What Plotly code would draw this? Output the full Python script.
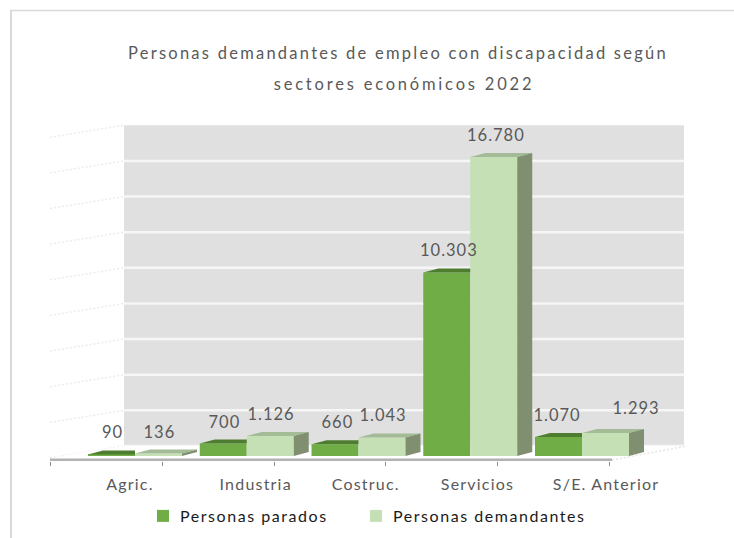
import plotly.graph_objects as go

categories = ["Agric.", "Industria", "Costruc.", "Servicios", "S/E. Anterior"]
parados = [90, 700, 660, 10303, 1070]
demandantes = [136, 1126, 1043, 16780, 1293]
grid_values = [0, 2000, 4000, 6000, 8000, 10000, 12000, 14000, 16000, 18000]

GREEN, LIGHT = "#70ad47", "#c5e0b4"
GREEN_TOP, LIGHT_TOP, SIDE = "#4e7d30", "#a3bb96", "#7f8f70"
FONT = "Lato"
TXT = "#595959"

# pixel geometry -> data scale
W, H = 734, 538
ML, MR, MT, MB = 40, 34, 100, 77
PX_X0, PX_CAT = 106.5, 111.75      # px of category 0, px per category
PX_Y0, PX_V = 456.0, 0.01782       # px of value 0, px per unit value
dx = lambda px: px / PX_CAT
dy = lambda px: px / PX_V
xd = lambda px: (px - PX_X0) / PX_CAT
yd = lambda px: (PX_Y0 - px) / PX_V
xp = lambda px: (px - ML) / (W - ML - MR)
yp = lambda px: (H - MB - px) / (H - MT - MB)

BAR_W = dx(47)
OFF_G = xd(88)
OFF_L = xd(135)
DEPTH_X, DEPTH_Y = dx(15), dy(4)
WALL_BASE = dy(10)
WALL_L, WALL_R = xd(124), xd(684)

xs = list(range(len(categories)))
fig = go.Figure()
fig.add_bar(x=xs, y=parados, name="Personas parados", width=BAR_W, offset=OFF_G,
            marker=dict(color=GREEN, line_width=0))
fig.add_bar(x=xs, y=demandantes, name="Personas demandantes", width=BAR_W, offset=OFF_L,
            marker=dict(color=LIGHT, line_width=0))


def poly(px_, py_, color):
    fig.add_scatter(x=px_ + px_[:1], y=py_ + py_[:1], mode="lines", fill="toself",
                    fillcolor=color, line=dict(width=0, color=color),
                    showlegend=False, hoverinfo="skip")


for i in xs:
    a = i + OFF_G
    b = a + BAR_W
    c = b + BAR_W
    g, l = parados[i], demandantes[i]
    poly([a, a + DEPTH_X, b, b], [g, g + DEPTH_Y, g + DEPTH_Y, g], GREEN_TOP)
    poly([b, b + DEPTH_X, c + DEPTH_X, c], [l, l + DEPTH_Y, l + DEPTH_Y, l], LIGHT_TOP)
    poly([c, c + DEPTH_X, c + DEPTH_X, c], [0, DEPTH_Y, l + DEPTH_Y, l], SIDE)

shapes = [
    # chart frame
    dict(type="line", xref="paper", yref="paper", x0=xp(10), x1=xp(734), y0=yp(10.5), y1=yp(10.5),
         line=dict(color="#d9d9d9", width=1.5)),
    dict(type="line", xref="paper", yref="paper", x0=xp(11), x1=xp(11), y0=yp(10), y1=yp(538),
         line=dict(color="#d9d9d9", width=2)),
    # back wall
    dict(type="rect", x0=WALL_L, x1=WALL_R, y0=WALL_BASE, y1=18000 + WALL_BASE, layer="below",
         fillcolor="#e0e0e0", line_width=0),
]
for v in grid_values[:-1]:
    shapes.append(dict(type="line", x0=WALL_L, x1=WALL_R, y0=v + WALL_BASE, y1=v + WALL_BASE,
                       layer="below", line=dict(color="#f6f6f6", width=2.5)))
for v in grid_values:
    shapes.append(dict(type="line", x0=xd(50), x1=WALL_L, y0=v + dy(-2), y1=v + WALL_BASE,
                       layer="below", line=dict(color="#ececec", width=1.5, dash="2px,2px")))
shapes += [
    # floor
    dict(type="path", layer="below", fillcolor="#ffffff", line_width=0,
         path=f"M {xd(50)} {dy(-2)} L {WALL_L} {WALL_BASE} L {WALL_R} {WALL_BASE} L {xd(612)} {dy(-2)} Z"),
    dict(type="line", x0=xd(612), x1=WALL_R + dx(3), y0=dy(-4), y1=WALL_BASE, layer="below",
         line=dict(color="#e6e6e6", width=1.5, dash="2px,2px")),
    # front axis band
    dict(type="rect", x0=xd(50), x1=xd(612), y0=dy(-7), y1=dy(-2.5), layer="below",
         fillcolor="#b2b2b2", line_width=0),
]

x_shift = [1, 1, 1, 1, 2, 1, 2, 2, -1, 30]
ann = []
for j, (vals, off) in enumerate([(parados, OFF_G), (demandantes, OFF_L)]):
    for i, v in enumerate(vals):
        ann.append(dict(x=i + off + BAR_W / 2, y=v, text=f"{v:,}".replace(",", "."),
                        showarrow=False, yanchor="middle", xanchor="center",
                        xshift=x_shift[2 * i + j], yshift=22 + (3 if i == 4 and j else 0),
                        font=dict(family=FONT, size=16.5, color=TXT)))

label_shift = [0.21, 0.335, 0.32, 0.32, 0.47]
fig.update_layout(
    width=W, height=H, margin=dict(l=ML, r=MR, t=MT, b=MB, pad=0, autoexpand=False),
    paper_bgcolor="white", plot_bgcolor="white", barmode="overlay",
    font=dict(family=FONT, color=TXT),
    title=dict(text="Personas demandantes de empleo con discapacidad según",
               subtitle=dict(text="sectores económicos 2022",
                             font=dict(family=FONT, size=16.5, color=TXT)),
               font=dict(family=FONT, size=16.5, color=TXT),
               x=398 / W, xanchor="center", y=1 - 53 / H, yanchor="middle"),
    xaxis=dict(range=[xd(ML), xd(W - MR)], showgrid=False, zeroline=False, showline=False,
               tickvals=[i + s for i, s in enumerate(label_shift)], ticktext=categories,
               ticks="", ticklabelstandoff=12, tickfont=dict(family=FONT, size=16, color=TXT),
               minor=dict(tickmode="array", tickvals=[i - 0.5 for i in range(len(categories) + 1)],
                          ticks="outside", ticklen=4, tickwidth=1, tickcolor="#8c8c8c", showgrid=False)),
    yaxis=dict(range=[yd(H - MB), yd(MT)], visible=False),
    legend=dict(orientation="h", x=143 / W, y=1 - 516 / H, xanchor="left", yanchor="middle",
                xref="container", yref="container",
                entrywidth=168, entrywidthmode="pixels", itemwidth=30,
                font=dict(family=FONT, size=16, color="#1a1a1a"), bgcolor="rgba(0,0,0,0)"),
    shapes=shapes, annotations=ann, showlegend=True,
)
css = """
document.body.style.margin='0';
var s=document.createElement('style');
s.textContent=`.gtitle{letter-spacing:2.25px}
.gtitle-subtitle{letter-spacing:2.8px;transform:translate(6px,-5px)}
.annotation-text{letter-spacing:1px}
.xtick text{letter-spacing:1.2px}
.legendtext{letter-spacing:1.55px;transform:translateX(-3px)}
.legend .scrollbox{clip-path:none !important}`;
document.head.appendChild(s);
"""
fig.write_html("out.html", post_script=css, config={"displayModeBar": False})
